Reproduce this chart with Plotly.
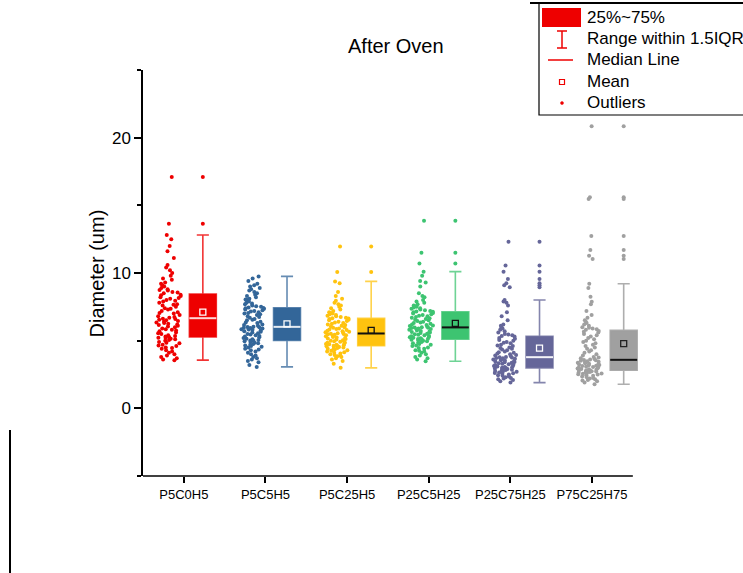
import numpy as np
import plotly.graph_objects as go

categories = ["P5C0H5", "P5C5H5", "P5C25H5", "P25C5H25", "P25C75H25", "P75C25H75"]

p5c0h5 = [3.56, 3.6, 3.7, 3.8, 3.9, 4.0, 4.1, 4.2, 4.3, 4.4, 4.45, 4.5, 4.6, 4.65, 4.7, 4.8, 4.85, 4.9, 5.0, 5.05, 5.1, 5.15, 5.2, 5.22, 5.25,
          5.3, 5.35, 5.4, 5.5, 5.55, 5.6, 5.7, 5.75, 5.8, 5.85, 5.9, 6.0, 6.05, 6.1, 6.15, 6.2, 6.25, 6.3, 6.35, 6.4, 6.45, 6.5, 6.55, 6.6, 6.62,
          6.7, 6.75, 6.8, 6.9, 7.0, 7.05, 7.1, 7.2, 7.3, 7.35, 7.4, 7.5, 7.6, 7.65, 7.7, 7.8, 7.9, 7.95, 8.0, 8.1, 8.15, 8.2, 8.3, 8.35, 8.4,
          8.5, 8.55, 8.6, 8.7, 8.75, 8.8, 8.9, 9.0, 9.1, 9.2, 9.3, 9.5, 9.6, 9.8, 10.0, 10.2, 10.4, 10.6, 11.1, 11.6, 12.0, 12.5, 12.81, 13.63, 17.09]

p5c5h5 = [3.06, 3.2, 3.4, 3.5, 3.6, 3.7, 3.8, 3.9, 4.0, 4.1, 4.2, 4.3, 4.35, 4.4, 4.5, 4.55, 4.6, 4.65, 4.7, 4.75, 4.8, 4.85, 4.9, 4.95, 5.0,
          5.02, 5.05, 5.1, 5.15, 5.2, 5.25, 5.3, 5.35, 5.4, 5.45, 5.5, 5.55, 5.6, 5.65, 5.7, 5.75, 5.8, 5.82, 5.85, 5.88, 5.9, 5.93, 5.96, 5.99, 6.01,
          6.03, 6.1, 6.15, 6.2, 6.3, 6.35, 6.4, 6.5, 6.55, 6.6, 6.7, 6.75, 6.8, 6.9, 6.95, 7.0, 7.05, 7.1, 7.15, 7.2, 7.25, 7.3, 7.35, 7.4, 7.42,
          7.45, 7.5, 7.55, 7.6, 7.7, 7.75, 7.8, 7.9, 8.0, 8.05, 8.1, 8.2, 8.3, 8.4, 8.5, 8.6, 8.7, 8.8, 8.9, 9.0, 9.1, 9.2, 9.4, 9.6, 9.75]

p5c25h5 = [2.99, 3.3, 3.5, 3.6, 3.7, 3.8, 3.85, 3.9, 3.95, 4.0, 4.05, 4.1, 4.15, 4.2, 4.25, 4.3, 4.35, 4.4, 4.42, 4.45, 4.5, 4.53, 4.56, 4.59, 4.61,
           4.63, 4.66, 4.7, 4.73, 4.76, 4.8, 4.84, 4.88, 4.92, 4.96, 5.0, 5.04, 5.08, 5.12, 5.16, 5.2, 5.24, 5.28, 5.32, 5.36, 5.4, 5.44, 5.47, 5.5, 5.52,
           5.54, 5.58, 5.62, 5.66, 5.7, 5.74, 5.78, 5.82, 5.86, 5.9, 5.95, 6.0, 6.05, 6.1, 6.15, 6.2, 6.25, 6.3, 6.35, 6.4, 6.45, 6.5, 6.55, 6.6, 6.63,
           6.66, 6.7, 6.75, 6.8, 6.85, 6.9, 6.95, 7.0, 7.05, 7.1, 7.2, 7.3, 7.4, 7.5, 7.6, 7.7, 7.8, 7.95, 8.1, 8.3, 8.6, 9.24, 9.38, 10.07, 11.95]

p25c5h25 = [3.48, 3.6, 3.7, 3.8, 3.9, 4.0, 4.1, 4.2, 4.25, 4.3, 4.4, 4.45, 4.5, 4.6, 4.65, 4.7, 4.75, 4.8, 4.85, 4.9, 4.95, 5.0, 5.03, 5.06, 5.1,
            5.12, 5.15, 5.18, 5.22, 5.25, 5.28, 5.32, 5.35, 5.4, 5.44, 5.48, 5.52, 5.56, 5.6, 5.64, 5.68, 5.72, 5.76, 5.8, 5.84, 5.87, 5.9, 5.93, 5.95, 5.97,
            5.99, 6.03, 6.08, 6.12, 6.16, 6.2, 6.25, 6.3, 6.35, 6.4, 6.45, 6.5, 6.55, 6.6, 6.65, 6.7, 6.75, 6.8, 6.85, 6.9, 6.95, 7.0, 7.05, 7.1, 7.13,
            7.15, 7.2, 7.25, 7.3, 7.35, 7.4, 7.45, 7.5, 7.55, 7.6, 7.7, 7.8, 7.9, 8.0, 8.2, 8.3, 8.5, 9.0, 9.3, 9.4, 9.8, 10.1, 10.7, 11.5, 13.87]

p25c75h25 = [1.9, 2.0, 2.1, 2.15, 2.2, 2.25, 2.3, 2.35, 2.4, 2.45, 2.5, 2.55, 2.6, 2.62, 2.65, 2.7, 2.73, 2.76, 2.8, 2.83, 2.86, 2.9, 2.93, 2.95, 2.98,
             3.0, 3.03, 3.06, 3.1, 3.13, 3.16, 3.2, 3.23, 3.26, 3.3, 3.33, 3.36, 3.4, 3.43, 3.46, 3.5, 3.53, 3.56, 3.6, 3.63, 3.66, 3.7, 3.72, 3.75, 3.77,
             3.79, 3.85, 3.9, 3.95, 4.0, 4.05, 4.1, 4.15, 4.2, 4.3, 4.35, 4.4, 4.45, 4.5, 4.6, 4.65, 4.7, 4.8, 4.85, 4.9, 5.0, 5.05, 5.15, 5.2, 5.3,
             5.35, 5.4, 5.45, 5.5, 5.6, 5.7, 5.8, 5.9, 6.0, 6.1, 6.2, 6.5, 6.8, 7.1, 7.6, 7.8, 7.9, 8.0, 8.95, 9.1, 9.25, 9.55, 10.1, 10.55, 12.3]

p75c25h75 = [1.78, 1.9, 2.0, 2.05, 2.1, 2.15, 2.2, 2.25, 2.3, 2.35, 2.4, 2.45, 2.5, 2.52, 2.55, 2.58, 2.6, 2.63, 2.66, 2.69, 2.72, 2.74, 2.76, 2.78, 2.8,
             2.82, 2.85, 2.88, 2.91, 2.94, 2.97, 3.0, 3.03, 3.06, 3.09, 3.12, 3.15, 3.18, 3.21, 3.24, 3.27, 3.3, 3.33, 3.36, 3.4, 3.44, 3.48, 3.52, 3.55, 3.57,
             3.6, 3.65, 3.7, 3.75, 3.8, 3.9, 4.0, 4.1, 4.2, 4.3, 4.4, 4.5, 4.6, 4.7, 4.8, 4.9, 5.0, 5.1, 5.2, 5.3, 5.4, 5.5, 5.6, 5.65, 5.72,
             5.8, 5.85, 5.9, 5.95, 6.0, 6.1, 6.2, 6.3, 6.4, 6.5, 6.7, 6.9, 7.2, 7.7, 7.87, 8.25, 8.9, 9.21, 11.04, 11.28, 11.7, 12.74, 15.46, 15.6, 20.84]

series = [p5c0h5, p5c5h5, p5c25h5, p25c5h25, p25c75h25, p75c25h75]

colors = ["#EE0000", "#336699", "#FFC30F", "#3DC471", "#656699", "#A0A0A0"]
line_colors = ["rgba(238,0,0,0.8)", "rgba(51,102,153,0.75)", "rgba(255,195,15,0.75)",
               "rgba(61,196,113,0.75)", "rgba(101,102,153,0.8)", "rgba(160,160,160,0.85)"]
median_colors = ["#FFD6D6", "#E4EBF2", "#111111", "#111111", "#F4F4F8", "#111111"]
mean_colors = ["#FFFFFF", "#FFFFFF", "#111111", "#111111", "#FFFFFF", "#222222"]

FONT = "Arial, Liberation Sans, sans-serif"
GROUP_STEP = 1.031
PTS_OFF = -0.178
BOX_OFF = 0.233
BOX_W = 0.33

# plot area in pixels
L, R, T, B = 143, 102, 70, 97
W_FIG, H_FIG = 743, 573
PW = W_FIG - L - R
PH = H_FIG - T - B


def pp(px, py):
    return (px - L) / PW, (H_FIG - B - py) / PH


fig = go.Figure()

for i, (vals, c, lc, mc, mk) in enumerate(zip(series, colors, line_colors, median_colors, mean_colors)):
    ppos = i * GROUP_STEP + PTS_OFF
    bpos = i * GROUP_STEP + BOX_OFF
    n = len(vals)
    fig.add_trace(go.Box(
        y=vals, x=[ppos] * n, orientation="v", boxpoints="all", jitter=1.0, pointpos=0,
        width=BOX_W, fillcolor="rgba(0,0,0,0)", line=dict(width=0, color="rgba(0,0,0,0)"),
        marker=dict(color=c, size=4, line=dict(width=0)), showlegend=False, name=categories[i]))
    fig.add_trace(go.Box(
        y=vals, x=[bpos] * n, orientation="v", boxpoints="outliers", width=BOX_W,
        whiskerwidth=0.45, fillcolor=c, line=dict(color=lc, width=1.6),
        marker=dict(color=c, size=4, line=dict(width=0)), showlegend=False, name=categories[i]))
    arr = np.array(vals)
    med = float(np.median(arr))
    mean = float(arr.mean())
    fig.add_trace(go.Scatter(
        x=[bpos - BOX_W / 2, bpos + BOX_W / 2], y=[med, med], mode="lines",
        line=dict(color=mc, width=2), showlegend=False, hoverinfo="skip"))
    fig.add_trace(go.Scatter(
        x=[bpos], y=[mean], mode="markers",
        marker=dict(symbol="square-open", size=6, color=mk, line=dict(width=1.3, color=mk)),
        showlegend=False))

shapes = []
# x-axis line (drawn as shape so boxes can extend beyond axis end)
shapes.append(dict(type="line", xref="x", yref="paper", x0=-0.5, x1=5.5, y0=0, y1=0,
                   line=dict(color="black", width=1.5)))

# manual legend
lx0, ly0 = pp(539, 3)
lx1, ly1 = pp(770, 115)
shapes.append(dict(type="rect", xref="paper", yref="paper", x0=lx0, x1=lx1, y0=ly1, y1=ly0,
                   line=dict(color="black", width=1.2), fillcolor="white", layer="above"))
tx0, ty0 = pp(530, 3)
tx1, _ = pp(770, 3)
shapes.append(dict(type="line", xref="paper", yref="paper", x0=tx0, x1=tx1, y0=ty0, y1=ty0,
                   line=dict(color="black", width=2)))
# page border on the left
bx, by0 = pp(10, 430)
_, by1 = pp(10, 575)
shapes.append(dict(type="line", xref="paper", yref="paper", x0=bx, x1=bx, y0=by0, y1=by1,
                   line=dict(color="black", width=2)))

red = colors[0]
a, b = pp(542, 8); c2, d = pp(581, 27)
shapes.append(dict(type="rect", xref="paper", yref="paper", x0=a, x1=c2, y0=d, y1=b,
                   line=dict(width=0), fillcolor=red, layer="above"))
for (x0p, y0p, x1p, y1p) in [(562, 31, 562, 48), (557, 31, 567, 31), (557, 48, 567, 48), (548, 60, 573, 60)]:
    a, b = pp(x0p, y0p); c2, d = pp(x1p, y1p)
    shapes.append(dict(type="line", xref="paper", yref="paper", x0=a, x1=c2, y0=b, y1=d,
                       line=dict(color=red, width=1.5), layer="above"))
a, b = pp(559.5, 79.5); c2, d = pp(564.5, 84.5)
shapes.append(dict(type="rect", xref="paper", yref="paper", x0=a, x1=c2, y0=d, y1=b,
                   line=dict(color=red, width=1.2), fillcolor="white", layer="above"))
a, b = pp(560.5, 101.5); c2, d = pp(563.5, 104.5)
shapes.append(dict(type="circle", xref="paper", yref="paper", x0=a, x1=c2, y0=d, y1=b,
                   line=dict(color=red, width=0.5), fillcolor=red, layer="above"))

annotations = []
for text, py in [("25%~75%", 18), ("Range within 1.5IQR", 39), ("Median Line", 60), ("Mean", 82), ("Outliers", 103)]:
    ax, ay = pp(585, py)
    annotations.append(dict(text=text, xref="paper", yref="paper", x=ax, y=ay, xanchor="left",
                            yanchor="middle", showarrow=False, font=dict(family=FONT, size=17, color="black")))

ax, ay = pp(396, 46)
annotations.append(dict(text="After Oven", xref="paper", yref="paper", x=ax, y=ay, xanchor="center",
                        yanchor="middle", showarrow=False, font=dict(family=FONT, size=20, color="black")))
ax, ay = pp(96, 273.5)
annotations.append(dict(text="Diameter (um)", xref="paper", yref="paper", x=ax, y=ay, xanchor="center",
                        yanchor="middle", textangle=-90, showarrow=False,
                        font=dict(family=FONT, size=20, color="black")))

fig.update_layout(
    width=W_FIG, height=H_FIG,
    margin=dict(l=L, r=R, t=T, b=B, pad=0),
    paper_bgcolor="white", plot_bgcolor="white",
    boxmode="overlay",
    shapes=shapes, annotations=annotations,
    font=dict(family=FONT, color="black"),
    xaxis=dict(range=[-0.5, 5.6], tickmode="array",
               tickvals=list(range(len(categories))), ticktext=categories,
               showline=False, showgrid=False, zeroline=False,
               ticks="outside", ticklen=6, tickwidth=1.5, tickcolor="black",
               tickfont=dict(family=FONT, size=13, color="black")),
    yaxis=dict(range=[-5, 25], tick0=0, dtick=10, showline=True, linewidth=1.5, linecolor="black",
               showgrid=False, zeroline=False, ticks="outside", ticklen=7, tickwidth=1.5,
               tickcolor="black", tickfont=dict(family=FONT, size=17, color="black"),
               minor=dict(ticks="outside", dtick=5, ticklen=4, tickwidth=1.5, tickcolor="black",
                          showgrid=False)),
)

fig.write_html("out.html")
